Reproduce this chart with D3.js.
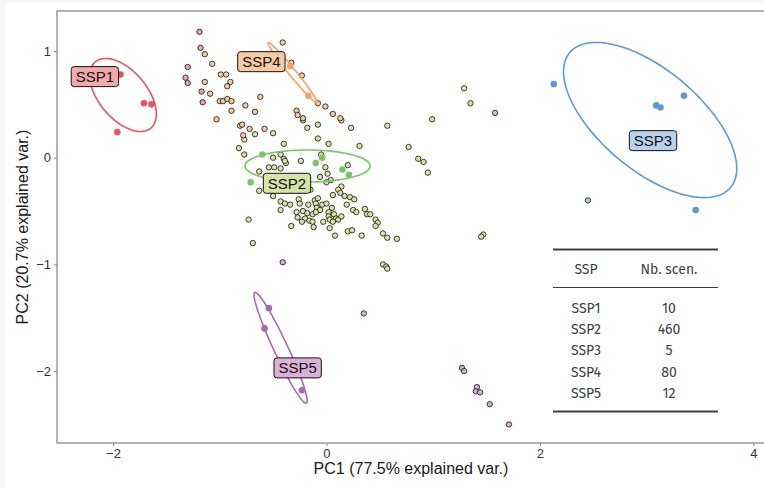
<!DOCTYPE html>
<html>
<head>
<meta charset="utf-8">
<script src="https://cdn.jsdelivr.net/npm/d3@7"></script>
<style>
  html, body { margin: 0; padding: 0; background: #f7f7f7; }
  svg { display: block; }
</style>
</head>
<body>
<svg id="chart" width="764" height="488"></svg>
<script>
// PCA scores (PC1, PC2) of individual scenarios, coloured by SSP family
const ssp1Scenarios = [[-1.19,1.18],[-1.18,1.03],[-1.30,0.85],[-1.32,0.75],[-1.30,0.70],[-1.17,0.62],[-1.16,0.52]];
const ssp4Scenarios = [[-1.14,0.97],[-1.07,0.88],[-0.99,0.78],[-0.94,0.78],[-1.14,0.71],[-0.90,0.71],[-0.93,0.67],
  [-1.09,0.60],[-1.00,0.53],[-0.97,0.53],[-0.93,0.55],[-0.89,0.53],[-0.89,0.44],[-1.03,0.36],[-0.62,0.57],[-0.76,0.49],
  [-0.67,0.43],[-0.41,1.08],[-0.33,0.89],[-0.23,0.77],[-0.08,0.51],[-0.01,0.48],[0.06,0.41],[0.13,0.37],[-0.28,0.44],
  [-0.27,0.40],[-0.22,0.37],[-0.81,0.30],[-0.79,0.31],[-0.72,0.27],[-0.58,0.27],[-0.78,0.21]];
const ssp2Scenarios = [[-0.82,0.09],[-0.77,0.03],[-0.77,0.17],[-0.67,0.22],[-0.50,0.23],[-0.40,0.13],[-0.22,0.35],
  [-0.18,0.28],[-0.08,0.31],[-0.08,0.18],[0.14,0.35],[0.23,0.28],[0.31,0.11],[0.57,0.30],[0.77,0.10],[0.86,-0.01],
  [0.91,-0.04],[0.95,-0.14],[0.99,0.36],[1.29,0.65],[1.35,0.51],[0.36,-0.48],[0.38,-0.53],[0.41,-0.53],[0.46,-0.58],
  [0.48,-0.61],[0.46,-0.64],[0.53,-0.71],[0.57,-0.75],[0.66,-0.76],[0.33,-0.73],[1.47,-0.72],[1.45,-0.74],[0.53,-1.00],
  [0.56,-1.02],[0.57,-1.04],[-0.69,-0.80],[-0.73,-0.58],[0.02,0.13],[-0.50,0.00],[-0.43,0.03],[-0.40,-0.01],
  [-0.38,-0.05],[-0.24,-0.03],[-0.05,0.03],[-0.54,-0.09],[-0.49,-0.09],[-0.43,-0.10],[-0.01,-0.09],[0.20,-0.07],
  [-0.63,-0.13],[-0.06,-0.18],[0.01,-0.15],[0.04,-0.21],[0.00,-0.23],[-0.15,-0.30],[-0.63,-0.31],[-0.50,-0.36],
  [0.14,-0.27],[0.11,-0.30],[0.06,-0.35],[0.13,-0.33],[0.17,-0.36],[0.22,-0.37],[0.26,-0.39],[0.19,-0.44],
  [-0.43,-0.41],[-0.39,-0.43],[-0.34,-0.44],[-0.26,-0.39],[-0.25,-0.43],[-0.17,-0.44],[-0.11,-0.40],[-0.08,-0.38],
  [-0.10,-0.43],[-0.04,-0.44],[-0.09,-0.47],[0.00,-0.43],[0.05,-0.47],[0.02,-0.51],[-0.43,-0.49],[-0.28,-0.51],
  [-0.22,-0.50],[-0.18,-0.52],[-0.13,-0.53],[-0.06,-0.49],[-0.27,-0.56],[-0.20,-0.57],[-0.16,-0.59],[-0.10,-0.51],
  [0.02,-0.55],[0.07,-0.53],[0.09,-0.57],[0.03,-0.58],[0.06,-0.60],[0.11,-0.58],[0.14,-0.55],[0.25,-0.49],
  [0.28,-0.51],[-0.23,-0.60],[-0.13,-0.60],[-0.03,-0.60],[-0.33,-0.64],[-0.12,-0.65],[0.03,-0.66],[0.20,-0.69],
  [0.24,-0.68],[0.08,-0.73],[-0.39,-0.03]];
const ssp3Scenarios = [[1.58,0.42],[2.45,-0.40]];
const ssp5Scenarios = [[-0.41,-0.98],[0.35,-1.46],[1.27,-1.97],[1.29,-2.00],[1.41,-2.15],[1.40,-2.19],[1.44,-2.20],
  [1.53,-2.31],[1.71,-2.50]];

// Reference runs of each SSP (solid dots)
const ssp1Markers = [[-1.93,0.78],[-1.71,0.51],[-1.64,0.50],[-1.96,0.24]];
const ssp2Markers = [[-0.60,0.03],[-0.10,-0.05],[-0.04,0.00],[0.15,-0.11],[0.21,-0.16],[-0.71,-0.23]];
const ssp3Markers = [[2.13,0.69],[3.09,0.49],[3.13,0.47],[3.35,0.58],[3.46,-0.49]];
const ssp4Markers = [[-0.34,0.86],[-0.17,0.58]];
const ssp5Markers = [[-0.54,-1.41],[-0.58,-1.60],[-0.23,-2.18]];

// Confidence ellipses: centre x, centre y, semi-major, semi-minor, rotation (deg)
const ellipseNames  = ["SSP1", "SSP2", "SSP3", "SSP4", "SSP5"];
const ellipseCx     = [-1.906, -0.177, 3.033, -0.318, -0.430];
const ellipseCy     = [0.588, -0.078, 0.353, 0.797, -1.782];
const ellipseA      = [0.405, 0.586, 0.984, 0.361, 0.572];
const ellipseB      = [0.225, 0.150, 0.469, 0.033, 0.066];
const ellipseAngle  = [-50, 0, -40, -51, -65];

// Group labels
const labelNames = ["SSP1", "SSP4", "SSP2", "SSP3", "SSP5"];
const labelX     = [-2.17, -0.61, -0.37, 3.06, -0.27];
const labelY     = [0.76, 0.90, -0.24, 0.16, -1.97];

// Summary table
const tableHeader = ["SSP", "Nb. scen."];
const tableSsp    = ["SSP1", "SSP2", "SSP3", "SSP4", "SSP5"];
const tableCounts = [10, 460, 5, 80, 12];

const xTicks = [-2, 0, 2, 4];
const yTicks = [-2, -1, 0, 1];

const colors = {
  SSP1: { point: "#eea4ab", line: "#ef5159", label: "#f1a9aa" },
  SSP2: { point: "#d8e3a4", line: "#7bc46c", label: "#d5e3a6" },
  SSP3: { point: "#b5cce9", line: "#5b9bd5", label: "#b8d1ec" },
  SSP4: { point: "#f6c99d", line: "#f7a25a", label: "#f6cba6" },
  SSP5: { point: "#d7addb", line: "#a56bb3", label: "#d9b2da" }
};

const svg = d3.select("#chart");
svg.append("rect").attr("x", 5).attr("y", 3).attr("width", 764).attr("height", 488).attr("fill", "#ffffff");

const x = d3.scaleLinear().domain([-2.525, 4.1]).range([57, 764]);
const y = d3.scaleLinear().domain([-2.674, 1.375]).range([443, 11]);

const plot = svg.append("g");
plot.append("clipPath").attr("id", "clip")
  .append("rect").attr("x", 57).attr("y", 11).attr("width", 707).attr("height", 432);

// Panel frame (open on the right, where the panel runs off the canvas)
svg.append("rect").attr("x", 57).attr("y", 11).attr("width", 760).attr("height", 432)
  .attr("fill", "none").attr("stroke", "#8a8a8a").attr("stroke-width", 1.3);

// Axes
const xAxis = svg.append("g").attr("transform", "translate(0,443)")
  .call(d3.axisBottom(x).tickValues(xTicks).tickSize(3).tickPadding(3).tickFormat(d3.format("d")));
const yAxis = svg.append("g").attr("transform", "translate(57,0)")
  .call(d3.axisLeft(y).tickValues(yTicks).tickSize(3).tickPadding(3).tickFormat(d3.format("d")));
[xAxis, yAxis].forEach(a => {
  a.select(".domain").remove();
  a.selectAll(".tick line").attr("stroke", "#8a8a8a").attr("stroke-width", 1);
  a.selectAll(".tick text").attr("fill", "#333333").attr("font-size", 13)
    .attr("font-family", "Liberation Sans, Arial, sans-serif");
});

svg.append("text").attr("x", 411).attr("y", 474).attr("text-anchor", "middle")
  .attr("font-family", "Liberation Sans, Arial, sans-serif").attr("font-size", 16).attr("fill", "#1a1a1a")
  .text("PC1 (77.5% explained var.)");
svg.append("text").attr("transform", "translate(28,227) rotate(-90)").attr("text-anchor", "middle")
  .attr("font-family", "Liberation Sans, Arial, sans-serif").attr("font-size", 16).attr("fill", "#1a1a1a")
  .text("PC2 (20.7% explained var.)");

const body = plot.append("g").attr("clip-path", "url(#clip)");

// Scenario points
const scenarioGroups = [
  ["SSP2", ssp2Scenarios], ["SSP4", ssp4Scenarios], ["SSP1", ssp1Scenarios],
  ["SSP3", ssp3Scenarios], ["SSP5", ssp5Scenarios]
];
scenarioGroups.forEach(([name, pts]) => {
  body.append("g").selectAll("circle").data(pts).join("circle")
    .attr("cx", d => x(d[0])).attr("cy", d => y(d[1])).attr("r", 2.7)
    .attr("fill", colors[name].point).attr("stroke", "#111").attr("stroke-width", 0.8);
});

// Reference runs
const markerGroups = [
  ["SSP1", ssp1Markers], ["SSP2", ssp2Markers], ["SSP3", ssp3Markers],
  ["SSP4", ssp4Markers], ["SSP5", ssp5Markers]
];
markerGroups.forEach(([name, pts]) => {
  body.append("g").selectAll("circle").data(pts).join("circle")
    .attr("cx", d => x(d[0])).attr("cy", d => y(d[1])).attr("r", 3.3)
    .attr("fill", colors[name].line);
});

// Ellipses
const line = d3.line().x(d => x(d[0])).y(d => y(d[1]));
ellipseNames.forEach((name, i) => {
  const th = ellipseAngle[i] * Math.PI / 180;
  const pts = d3.range(0, 121).map(k => {
    const t = k / 120 * 2 * Math.PI;
    const ex = ellipseA[i] * Math.cos(t), ey = ellipseB[i] * Math.sin(t);
    return [ellipseCx[i] + ex * Math.cos(th) - ey * Math.sin(th),
            ellipseCy[i] + ex * Math.sin(th) + ey * Math.cos(th)];
  });
  body.append("path").attr("d", line(pts)).attr("fill", "none")
    .attr("stroke", colors[name].line).attr("stroke-width", 1.6);
});

// Group labels
labelNames.forEach((name, i) => {
  const g = body.append("g").attr("transform", `translate(${x(labelX[i])},${y(labelY[i])})`);
  const rect = g.append("rect");
  const t = g.append("text").attr("text-anchor", "middle").attr("dy", "0.36em")
    .attr("font-family", "Liberation Sans, Arial, sans-serif").attr("font-size", 15).attr("fill", "#111")
    .text(name);
  const w = t.node().getComputedTextLength() + 9;
  const h = 20;
  rect.attr("x", -w / 2).attr("y", -h / 2).attr("width", w).attr("height", h)
    .attr("rx", 3).attr("ry", 3).attr("fill", colors[name].label)
    .attr("stroke", "#111").attr("stroke-width", 1);
});

// Summary table
const tbl = svg.append("g");
const tFont = "Fira Sans, Open Sans, Lato, sans-serif";
const tColor = "#3a4245";
const colX = [586, 669];
tbl.append("line").attr("x1", 553).attr("x2", 718).attr("y1", 249.5).attr("y2", 249.5)
  .attr("stroke", tColor).attr("stroke-width", 2);
tbl.append("line").attr("x1", 553).attr("x2", 718).attr("y1", 287.5).attr("y2", 287.5)
  .attr("stroke", tColor).attr("stroke-width", 1);
tbl.append("line").attr("x1", 553).attr("x2", 718).attr("y1", 411.5).attr("y2", 411.5)
  .attr("stroke", tColor).attr("stroke-width", 2);
tableHeader.forEach((h, j) => {
  tbl.append("text").attr("x", colX[j]).attr("y", 269).attr("dy", "0.35em").attr("text-anchor", "middle")
    .attr("font-family", tFont).attr("font-size", 14).attr("fill", tColor).text(h);
});
const rowY = d3.scaleLinear().domain([0, 4]).range([307.7, 393.3]);
tableSsp.forEach((s, i) => {
  tbl.append("text").attr("x", colX[0]).attr("y", rowY(i)).attr("dy", "0.35em").attr("text-anchor", "middle")
    .attr("font-family", tFont).attr("font-size", 14).attr("fill", tColor).text(s);
  tbl.append("text").attr("x", colX[1]).attr("y", rowY(i)).attr("dy", "0.35em").attr("text-anchor", "middle")
    .attr("font-family", tFont).attr("font-size", 14).attr("fill", tColor).text(tableCounts[i]);
});
</script>
</body>
</html>
